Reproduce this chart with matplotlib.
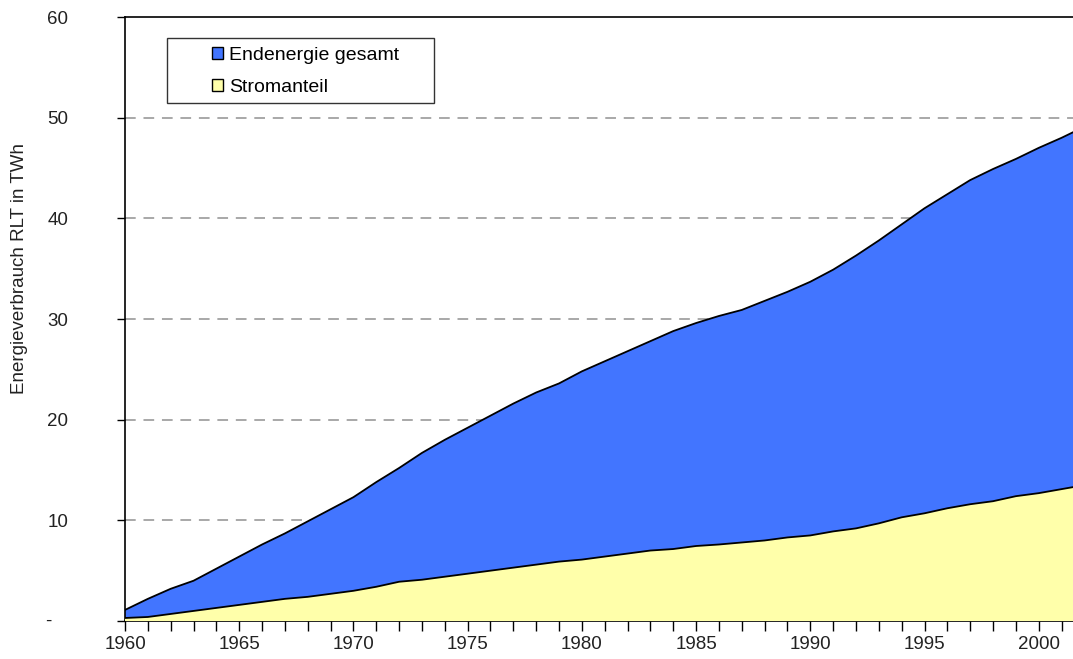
import matplotlib
matplotlib.use("Agg")
import matplotlib.pyplot as plt
from matplotlib.patches import Patch, Rectangle

plt.rcParams['font.family'] = ['Liberation Sans', 'DejaVu Sans']

years = list(range(1960, 2003))
gesamt = [1.1, 2.2, 3.2, 4.0, 5.2, 6.4, 7.6, 8.7, 9.9, 11.1,
          12.3, 13.8, 15.2, 16.7, 18.0, 19.2, 20.4, 21.6, 22.7, 23.6,
          24.8, 25.8, 26.8, 27.8, 28.8, 29.6, 30.3, 30.9, 31.8, 32.7,
          33.7, 34.9, 36.3, 37.8, 39.4, 41.0, 42.4, 43.8, 44.9, 45.9,
          47.0, 48.0, 49.1]
strom = [0.3, 0.4, 0.7, 1.0, 1.3, 1.6, 1.9, 2.2, 2.4, 2.7,
         3.0, 3.4, 3.9, 4.1, 4.4, 4.7, 5.0, 5.3, 5.6, 5.9,
         6.1, 6.4, 6.7, 7.0, 7.15, 7.45, 7.6, 7.8, 8.0, 8.3,
         8.5, 8.9, 9.2, 9.7, 10.3, 10.7, 11.2, 11.6, 11.9, 12.4,
         12.7, 13.1, 13.5]
labels = ["Endenergie gesamt", "Stromanteil"]
yticks = [0, 10, 20, 30, 40, 50, 60]
xlabel_years = [1960, 1965, 1970, 1975, 1980, 1985, 1990, 1995, 2000]

blue = '#4275FF'
yellow = '#FFFFAA'
txt = '#222222'

fig = plt.figure(figsize=(10.73, 6.59), dpi=100)
ax = fig.add_axes([125 / 1073, 1 - 621 / 659, 1 - 125 / 1073, 604 / 659])

ax.fill_between(years, 0, gesamt, facecolor=blue, edgecolor='none', zorder=2)
ax.plot(years, gesamt, color='black', lw=1.3, zorder=3)
ax.fill_between(years, 0, strom, facecolor=yellow, edgecolor='none', zorder=4)
ax.plot(years, strom, color='black', lw=1.3, zorder=5)

ax.set_xlim(1960, 2001.5)
ax.set_ylim(0, 60)

# grid
for v in yticks[1:-1]:
    ax.axhline(v, color='#A8A8A8', lw=1.4, ls=(0, (5.5, 4)), zorder=1)

ax.spines['right'].set_visible(False)
for s in ['left', 'bottom', 'top']:
    ax.spines[s].set_color('black')
    ax.spines[s].set_linewidth(1.2)

ax.set_yticks(yticks)
ax.set_yticklabels([''] + [str(v) for v in yticks[1:]], fontsize=13.5, color=txt)
ax.tick_params(axis='y', direction='out', length=6, width=1.0, pad=35)
ax.text(-0.081, 0, '-', transform=ax.get_yaxis_transform(), ha='center', va='center',
        fontsize=13.5, color=txt)

ax.set_xticks(years[:-1])
ax.set_xticklabels([str(y) if y in xlabel_years else '' for y in years[:-1]],
                   fontsize=13.5, color=txt)
ax.tick_params(axis='x', direction='out', length=7, width=1.0, pad=4)

ax.set_ylabel('Energieverbrauch RLT in TWh', fontsize=13.5, color=txt)
ax.yaxis.set_label_coords(-0.102, 0.584)

# legend
handles = [Patch(facecolor=blue, edgecolor='black', lw=1.0),
           Patch(facecolor=yellow, edgecolor='black', lw=1.0)]
ax.legend(handles, labels, loc='upper left', bbox_to_anchor=(0.0918, 0.951),
          frameon=False, borderpad=0, borderaxespad=0, fontsize=14,
          handlelength=0.57, handleheight=0.57, handletextpad=0.3, labelspacing=0.8)
ax.add_patch(Rectangle((0.0443, 0.8576), 0.2816, 0.1076, transform=ax.transAxes,
                       facecolor='white', edgecolor='#333333', lw=1.0, zorder=6))
ax.get_legend().set_zorder(7)

fig.savefig('out.png', dpi=100)
